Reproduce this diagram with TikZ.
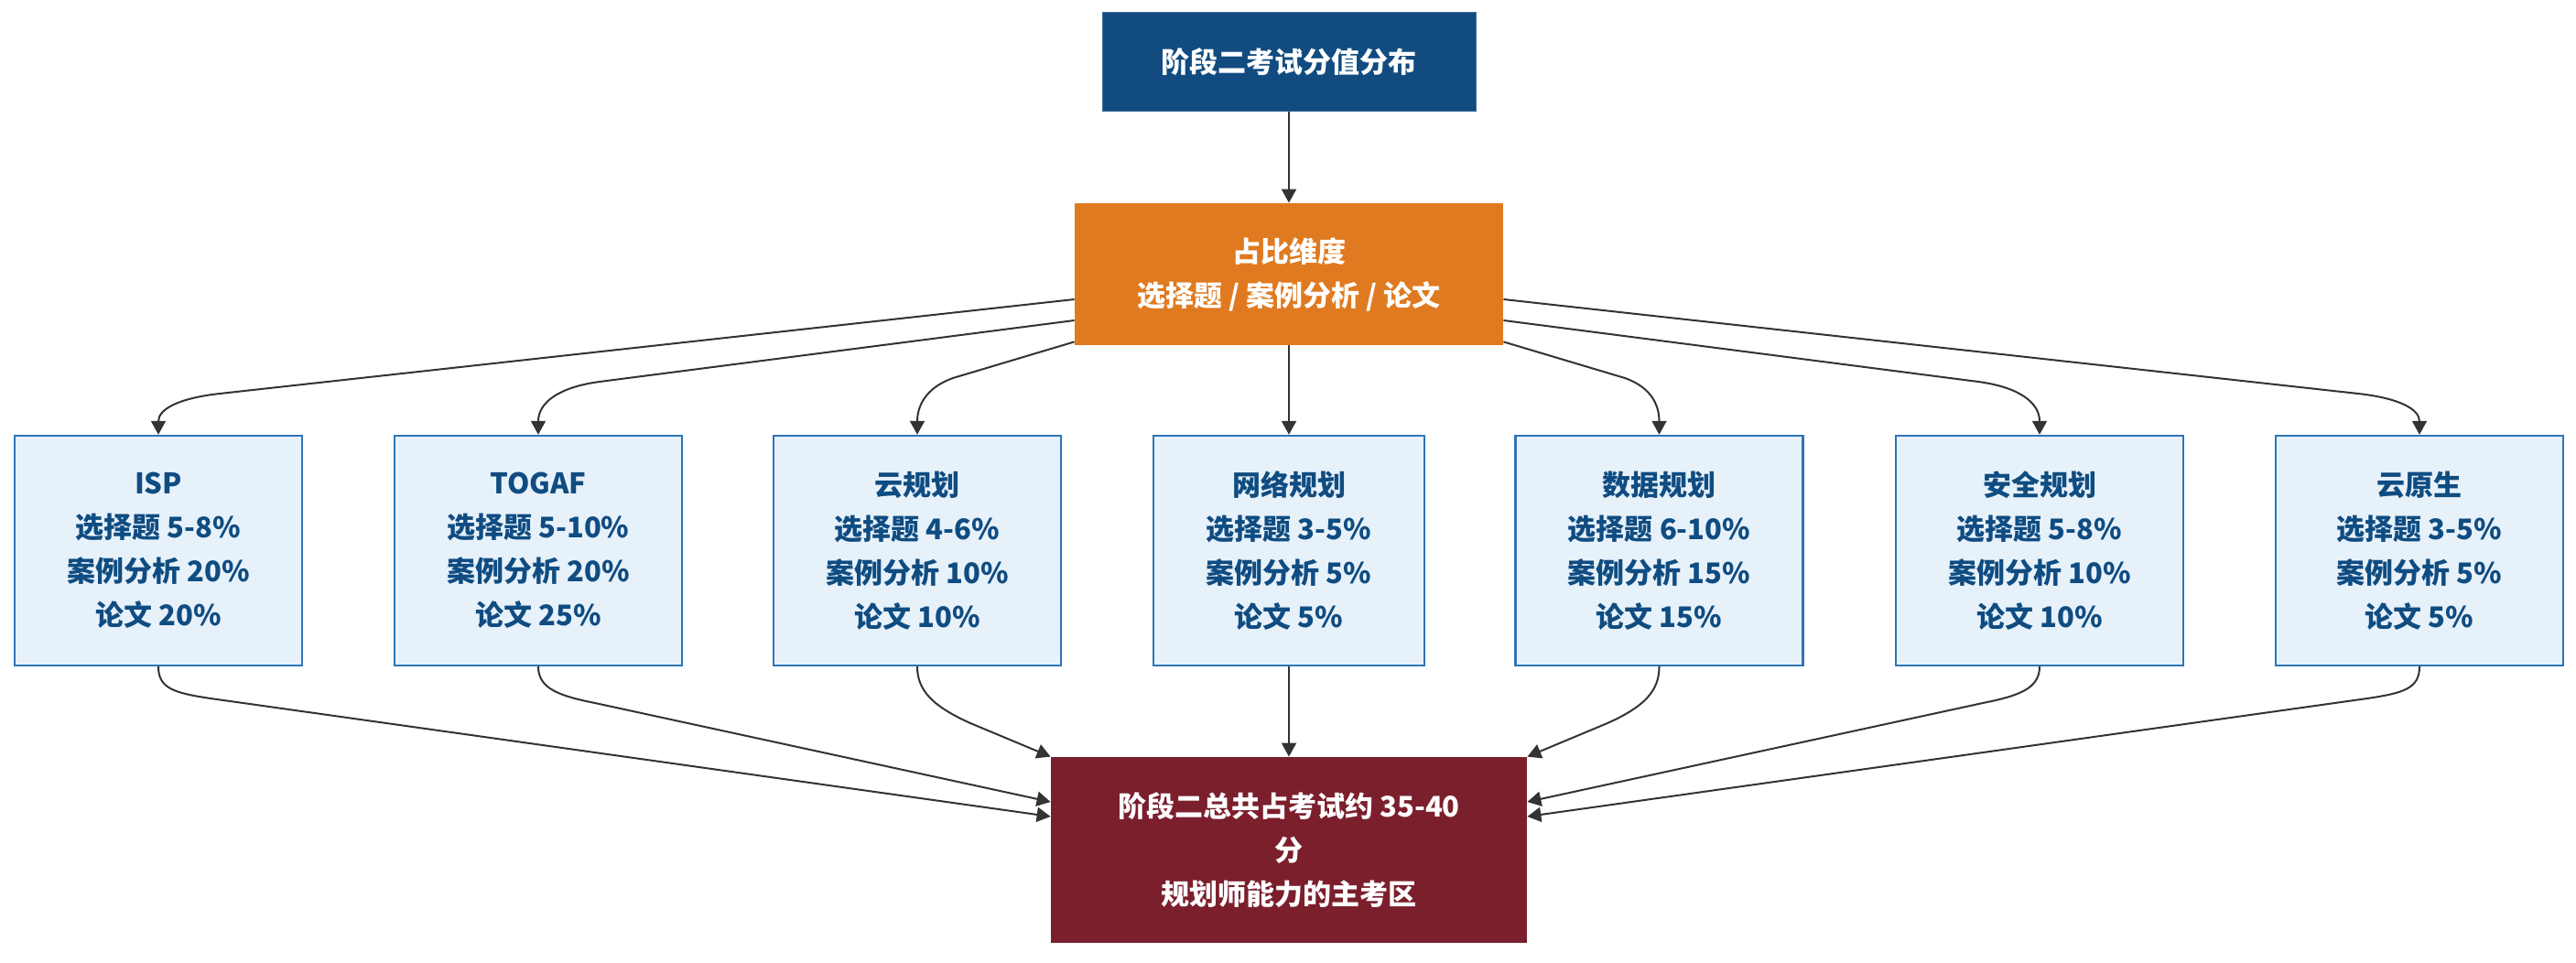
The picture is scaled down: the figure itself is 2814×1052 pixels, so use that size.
\documentclass[tikz,border=0pt]{standalone}
\usepackage{fontspec}
\setmainfont{Noto Sans CJK SC}
\usetikzlibrary{arrows.meta,calc}
\definecolor{topblue}{RGB}{17,75,128}
\definecolor{midorange}{RGB}{224,122,32}
\definecolor{boxfill}{RGB}{231,241,250}
\definecolor{boxborder}{RGB}{46,117,182}
\definecolor{boxtext}{RGB}{15,76,129}
\definecolor{maroon}{RGB}{123,31,45}
\definecolor{arrowgray}{RGB}{51,51,51}
\begin{document}
\begin{tikzpicture}[x=0.5pt,y=-0.5pt,
  every node/.style={inner sep=0pt, align=center, font=\bfseries\fontsize{15.5}{24}\selectfont},
  topbox/.style={fill=topblue, draw=topblue!80!white, line width=0.5pt, text=white, minimum width=204pt, minimum height=54pt},
  midbox/.style={fill=midorange, text=white, minimum width=234pt, minimum height=77.5pt},
  catbox/.style={fill=boxfill, draw=boxborder, line width=1.2pt, text=boxtext, minimum width=157pt, minimum height=125.5pt},
  botbox/.style={fill=maroon, text=white, minimum width=260pt, minimum height=101.5pt},
  arr/.style={draw=arrowgray, line width=1pt, -{Triangle[length=7.5pt,width=8pt]}}
]
\useasboundingbox (0,0) rectangle (2814,1052);

\node[topbox] (top) at (1408,68) {阶段二考试分值分布};
\node[midbox] (orange) at (1408,299.5) {占比维度\\选择题 / 案例分析 / 论文};

\node[catbox] (isp) at (173,601.5) {ISP\\选择题 5-8\%\\案例分析 20\%\\论文 20\%};
\node[catbox] (togaf) at (588,601.5) {TOGAF\\选择题 5-10\%\\案例分析 20\%\\论文 25\%};
\node[catbox] (cloud) at (1002,601.5) {云规划\\选择题 4-6\%\\案例分析 10\%\\论文 10\%};
\node[catbox, minimum width=148pt] (net) at (1408,601.5) {网络规划\\选择题 3-5\%\\案例分析 5\%\\论文 5\%};
\node[catbox] (data) at (1812.5,601.5) {数据规划\\选择题 6-10\%\\案例分析 15\%\\论文 15\%};
\node[catbox] (sec) at (2228,601.5) {安全规划\\选择题 5-8\%\\案例分析 10\%\\论文 10\%};
\node[catbox] (cn) at (2643,601.5) {云原生\\选择题 3-5\%\\案例分析 5\%\\论文 5\%};

\node[botbox] (bot) at (1408,928.5) {阶段二总共占考试约 35-40\\分\\规划师能力的主考区};

% top to orange
\draw[arr] (top) -- (orange);

% orange to categories
\draw[arr] ([yshift=-13.75pt]orange.west) -- (240,430) .. controls (195,435) and (173,447) .. (isp);
\draw[arr] ([yshift=-25.25pt]orange.west) -- (655,417) .. controls (610,423) and (588,440) .. (togaf);
\draw[arr] ([yshift=2pt]orange.south west) -- (1041,413) .. controls (1010,424) and (1002,445) .. (cloud);
\draw[arr] (orange) -- (net);
\draw[arr] ([yshift=2pt]orange.south east) -- (1775,413) .. controls (1806,424) and (1812.5,445) .. (data);
\draw[arr] ([yshift=-25.25pt]orange.east) -- (2161,417) .. controls (2206,423) and (2228,440) .. (sec);
\draw[arr] ([yshift=-13.75pt]orange.east) -- (2576,430) .. controls (2621,435) and (2643,447) .. (cn);

% categories to bottom
\draw[arr] (isp) .. controls (173,752) and (190,757) .. (230,763) -- ([yshift=18.25pt]bot.west);
\draw[arr] (togaf) .. controls (588,752) and (610,760) .. (650,768) -- ([yshift=26.25pt]bot.west);
\draw[arr] (cloud) .. controls (1002,755) and (1020,772) .. (1060,790) -- (bot.north west);
\draw[arr] (net) -- (bot);
\draw[arr] (data) .. controls (1812.5,755) and (1796,772) .. (1756,790) -- (bot.north east);
\draw[arr] (sec) .. controls (2228,752) and (2206,760) .. (2166,768) -- ([yshift=26.25pt]bot.east);
\draw[arr] (cn) .. controls (2643,752) and (2626,757) .. (2586,763) -- ([yshift=18.25pt]bot.east);
\end{tikzpicture}
\end{document}
